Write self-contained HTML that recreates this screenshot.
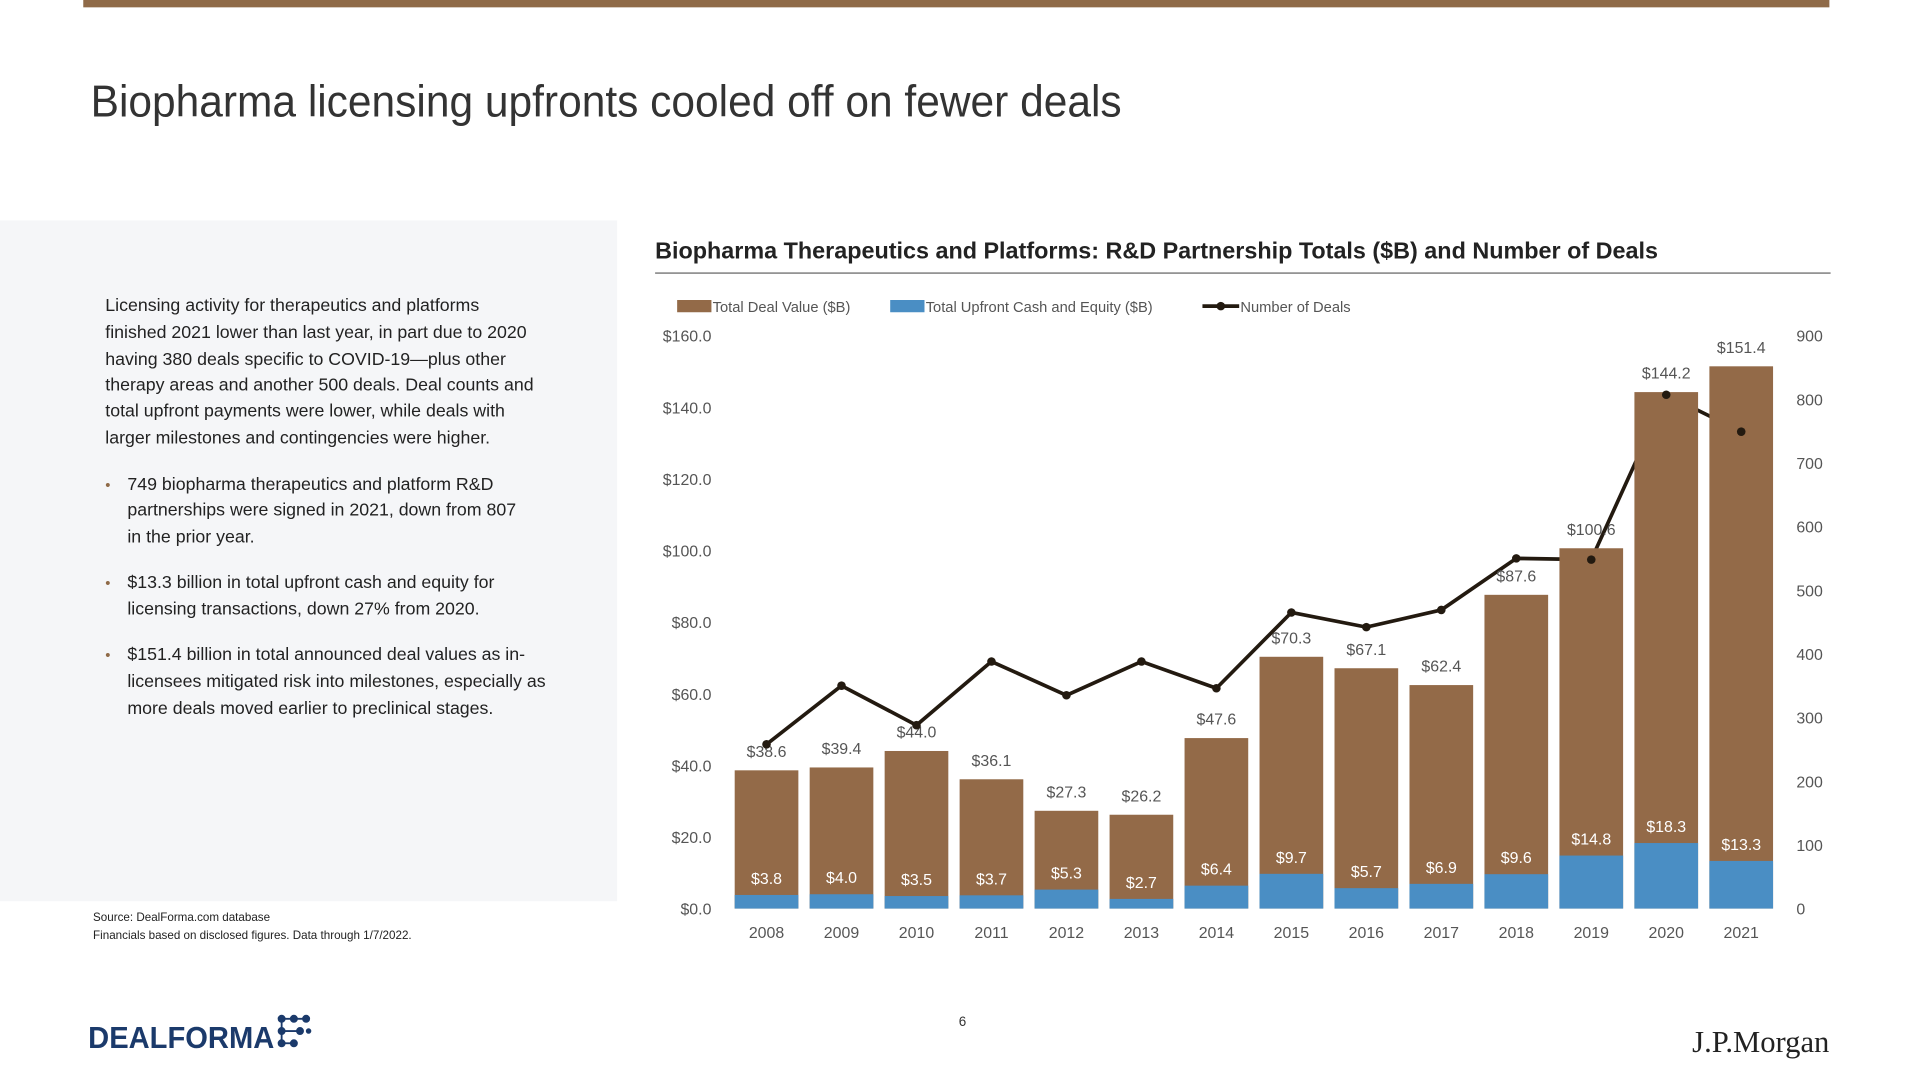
<!DOCTYPE html>
<html><head><meta charset="utf-8">
<style>
html,body{margin:0;padding:0;background:#fff;width:1920px;height:1080px;overflow:hidden}
svg{display:block}
text{font-family:"Liberation Sans",sans-serif}
</style></head>
<body>
<svg id="page" width="1920" height="1080" viewBox="0 0 1568 882">
<rect x="68" y="0" width="1426" height="6" fill="#8f6a48"/>
<text x="74" y="95" font-size="36" fill="#333" textLength="842" lengthAdjust="spacingAndGlyphs">Biopharma licensing upfronts cooled off on fewer deals</text>

<rect x="0" y="180" width="504" height="556" fill="#f5f6f8"/>
<g font-size="14.5" fill="#222">
<text x="86" y="254">Licensing activity for therapeutics and platforms</text>
<text x="86" y="276">finished 2021 lower than last year, in part due to 2020</text>
<text x="86" y="298">having 380 deals specific to COVID-19—plus other</text>
<text x="86" y="319">therapy areas and another 500 deals. Deal counts and</text>
<text x="86" y="340">total upfront payments were lower, while deals with</text>
<text x="86" y="362">larger milestones and contingencies were higher.</text>
<text x="86" y="400" fill="#8f6a48" font-size="12">•</text>
<text x="104" y="400">749 biopharma therapeutics and platform R&amp;D</text>
<text x="104" y="421">partnerships were signed in 2021, down from 807</text>
<text x="104" y="443">in the prior year.</text>
<text x="86" y="480" fill="#8f6a48" font-size="12">•</text>
<text x="104" y="480">$13.3 billion in total upfront cash and equity for</text>
<text x="104" y="502">licensing transactions, down 27% from 2020.</text>
<text x="86" y="539" fill="#8f6a48" font-size="12">•</text>
<text x="104" y="539">$151.4 billion in total announced deal values as in-</text>
<text x="104" y="561">licensees mitigated risk into milestones, especially as</text>
<text x="104" y="583">more deals moved earlier to preclinical stages.</text>
</g>
<g font-size="9.5" fill="#222">
<text x="76" y="752">Source: DealForma.com database</text>
<text x="76" y="767">Financials based on disclosed figures. Data through 1/7/2022.</text>
</g>

<text x="535" y="211" font-size="19" font-weight="bold" fill="#222" textLength="819" lengthAdjust="spacingAndGlyphs">Biopharma Therapeutics and Platforms: R&amp;D Partnership Totals ($B) and Number of Deals</text>
<line x1="535" y1="223" x2="1495" y2="223" stroke="#555" stroke-width="1"/>

<g font-size="12" fill="#555">
<g><rect x="553" y="245" width="28" height="10" fill="#936a48"/><text x="582" y="255">Total Deal Value ($B)</text></g>
<g><rect x="727" y="245" width="28" height="10" fill="#4a8ec4"/><text x="756" y="255">Total Upfront Cash and Equity ($B)</text></g>
<g><line x1="982" y1="250" x2="1012" y2="250" stroke="#231a10" stroke-width="3"/><circle cx="997" cy="250" r="3.5" fill="#231a10"/><text x="1013" y="255">Number of Deals</text></g>
</g>

<g id="chart"></g>

<text x="783" y="838" font-size="11" fill="#333">6</text>
<g>
<text x="72" y="856" font-size="25" font-weight="bold" fill="#1b3a6b" textLength="152" lengthAdjust="spacingAndGlyphs">DEALFORMA</text>
<g fill="#1b3a6b" stroke="#1b3a6b" stroke-width="1.5">
<line x1="230" y1="832" x2="250" y2="832"/><line x1="230" y1="832" x2="230" y2="852"/><line x1="230" y1="842" x2="245" y2="842"/><line x1="230" y1="852" x2="240" y2="852"/>
<circle cx="230" cy="832" r="2.5"/><circle cx="240" cy="832" r="2.5"/><circle cx="250" cy="832" r="2.5"/><circle cx="230" cy="842" r="2.5"/><circle cx="245" cy="842" r="2.5"/><circle cx="230" cy="852" r="2.5"/><circle cx="240" cy="852" r="2.5"/><circle cx="252" cy="842" r="1.5"/>
</g></g>
<text x="1494" y="859" font-size="25" fill="#222" text-anchor="end" style="font-family:'Liberation Serif',serif">J.P.Morgan</text>
</svg>
<script>
const years=["2008","2009","2010","2011","2012","2013","2014","2015","2016","2017","2018","2019","2020","2021"];
const totalValues=[38.6,39.4,44.0,36.1,27.3,26.2,47.6,70.3,67.1,62.4,87.6,100.6,144.2,151.4];
const upfrontValues=[3.8,4.0,3.5,3.7,5.3,2.7,6.4,9.7,5.7,6.9,9.6,14.8,18.3,13.3];
const dealCounts=[258,350,288,388,335,388,346,465,442,469,550,548,807,749];
const leftTicks=[0,20,40,60,80,100,120,140,160];
const rightTicks=[0,100,200,300,400,500,600,700,800,900];

const NS="http://www.w3.org/2000/svg";
const g=document.getElementById('chart');
const x0=626,step=(1422-626)/13,bw=52,yb=742,yt=274;
const xs=i=>x0+i*step;
const yL=v=>yb-(v/160)*(yb-yt);
const yR=v=>yb-(v/900)*(yb-yt);
function mk(t,a,txt){const e=document.createElementNS(NS,t);for(const k in a)e.setAttribute(k,a[k]);if(txt!==undefined)e.textContent=txt;g.appendChild(e);return e;}

leftTicks.forEach(v=>{
 const e=mk('text',{x:581,y:yL(v)+5,'font-size':13,fill:'#555','text-anchor':'end'},'$'+v.toFixed(1));
 
 
});
rightTicks.forEach(v=>{
 const e=mk('text',{x:1467,y:yR(v)+5,'font-size':13,fill:'#555'},String(v));
 
 
});
const pts=dealCounts.map((v,i)=>xs(i)+','+yR(v)).join(' ');
const pl=mk('polyline',{points:pts,fill:'none',stroke:'#231a10','stroke-width':3,'stroke-linejoin':'round'});


years.forEach((y,i)=>{
 const cx=xs(i);
 const b=mk('rect',{x:cx-bw/2,y:yL(totalValues[i]),width:bw,height:yb-yL(totalValues[i]),fill:'#936a48'});
 
 
 const u=mk('rect',{x:cx-bw/2,y:yL(upfrontValues[i]),width:bw,height:yb-yL(upfrontValues[i]),fill:'#4a8ec4'});
 
 
 const xl=mk('text',{x:cx,y:766,'font-size':13,fill:'#555','text-anchor':'middle'},y);
 
 
 const tl=mk('text',{x:cx,y:yL(totalValues[i])-11,'font-size':13,fill:'#555','text-anchor':'middle'},'$'+totalValues[i].toFixed(1));
 
 
 const ul=mk('text',{x:cx,y:yL(upfrontValues[i])-9,'font-size':13,fill:'#fff','text-anchor':'middle'},'$'+upfrontValues[i].toFixed(1));
 
 
});
dealCounts.forEach((v,i)=>{
 const c=mk('circle',{cx:xs(i),cy:yR(v),r:3.5,fill:'#231a10'});
 
 
});
</script>
</body></html>
